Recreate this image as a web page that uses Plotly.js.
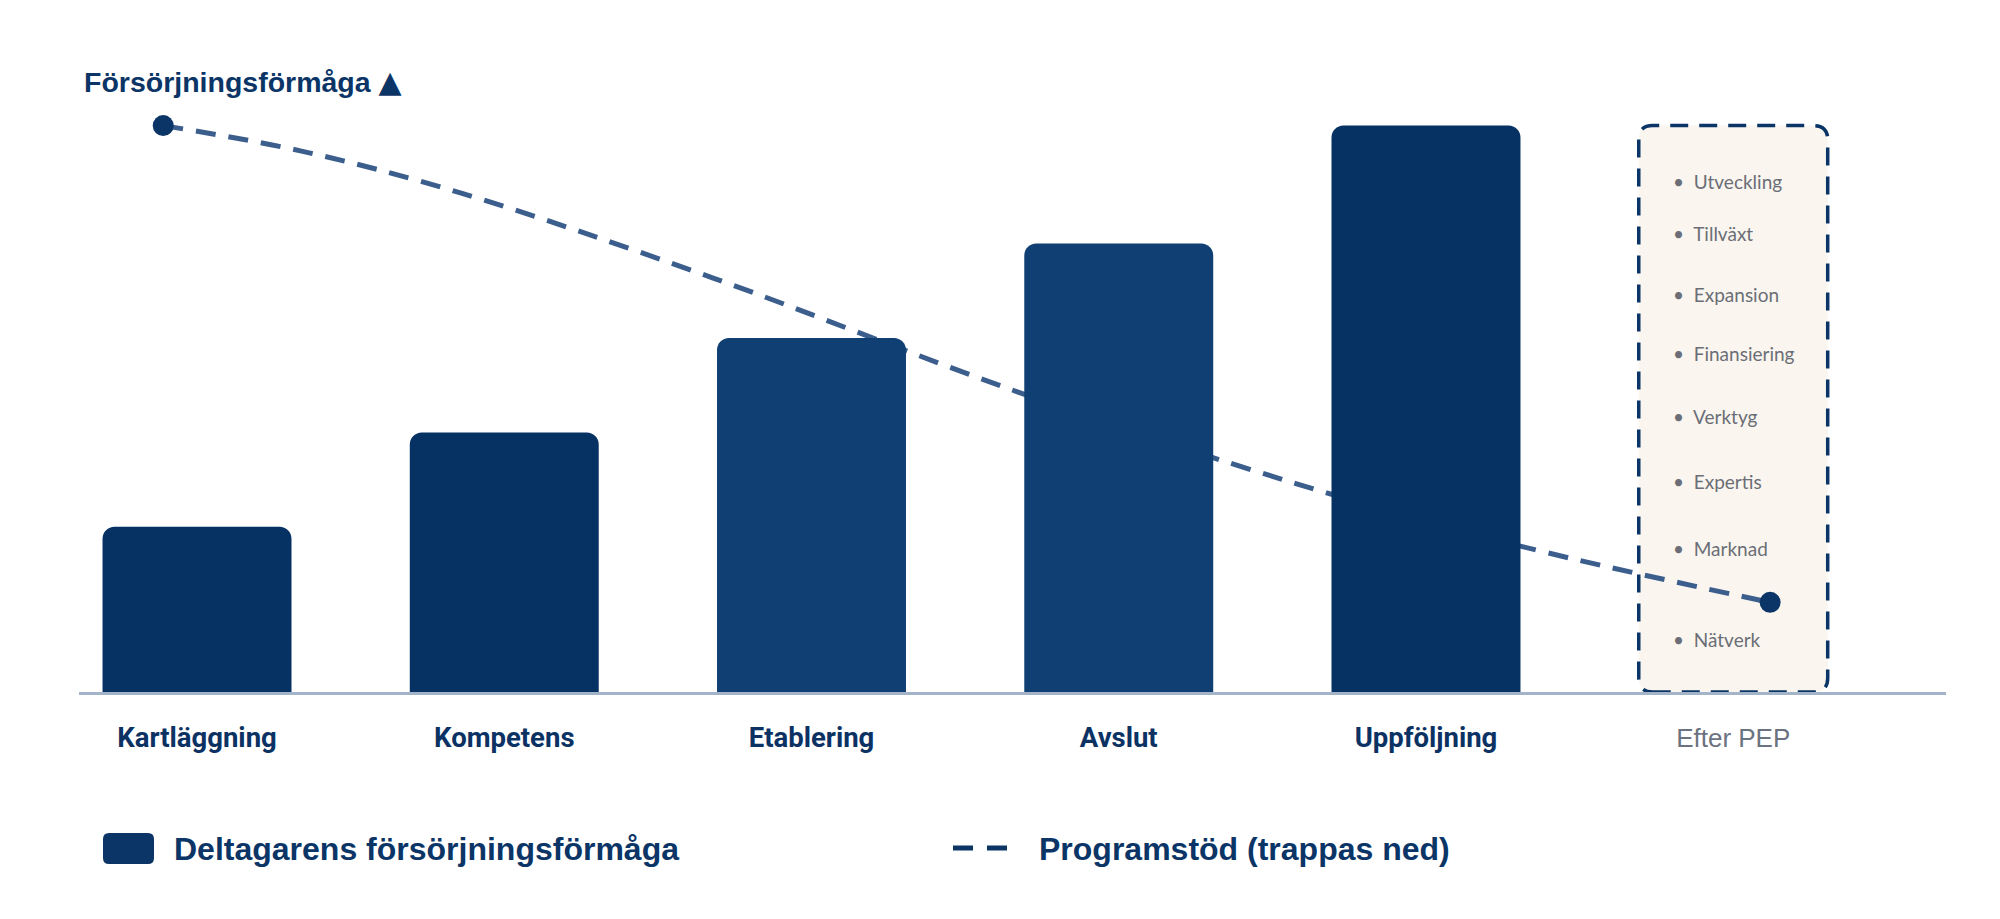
<!DOCTYPE html>
<html>
<head>
<meta charset="utf-8">
<script src="https://cdn.plot.ly/plotly-3.0.1.min.js"></script>
<style>html,body{margin:0;padding:0;background:#fff;}#chart{width:2000px;height:919px;}</style>
</head>
<body>
<div id="chart"></div>
<script>
// ---- data ----
const categories = ['Kartläggning', 'Kompetens', 'Etablering', 'Avslut', 'Uppföljning', 'Efter PEP'];
const barValues = [35, 55, 75, 95, 120];
const supportX = [-0.11, 0.34, 0.86, 1.68, 2.67, 3.59, 4.32, 5.12];
const supportY = [120, 114.6, 105.7, 87.7, 63.6, 43.9, 30.7, 19];
const afterItems = ['Utveckling', 'Tillväxt', 'Expansion', 'Finansiering', 'Verktyg', 'Expertis', 'Marknad', 'Nätverk'];
const afterItemLevels = [108.1, 97.2, 84.3, 71.8, 58.3, 44.5, 30.5, 11.2];
const barSeriesName = 'Deltagarens försörjningsförmåga';
const lineSeriesName = 'Programstöd (trappas ned)';
const yTitle = 'Försörjningsförmåga';
const yTitleMark = '▲';

// ---- style ----
const NAVY = '#0b3566';
const barColors = ['#063263', '#063263', '#0f3f73', '#0f3f73', '#063263'];
const xRange = [-0.3841, 5.6925];
const yRange = [0, 125];
const barWidth = 0.615;

const barX = barValues.map((_, i) => i);
const afterIdx = categories.length - 1;
const boxTop = Math.max(...barValues);
const lastI = supportX.length - 1;

const bars = {
  type: 'bar', x: barX, y: barValues, width: barWidth,
  xaxis: 'x2', yaxis: 'y2',
  marker: { color: barColors, cornerradius: 12, line: { width: 0 } },
  hoverinfo: 'skip', showlegend: false
};
const line = {
  type: 'scatter', mode: 'lines', x: supportX, y: supportY,
  line: { shape: 'spline', smoothing: 1, dash: '20px,13px', width: 5, color: '#3b5e8c' },
  hoverinfo: 'skip', showlegend: false
};
const ends = {
  type: 'scatter', mode: 'markers', x: [supportX[0], supportX[lastI]], y: [supportY[0], supportY[lastI]],
  marker: { size: 21, color: NAVY, opacity: 1, line: { width: 0 } },
  hoverinfo: 'skip', showlegend: false
};

// rounded box for "Efter PEP"
const bx0 = afterIdx - barWidth / 2, bx1 = afterIdx + barWidth / 2, by0 = 0, by1 = boxTop;
const rx = 14 / 307.25, ry = 14 / 4.72;
const boxPath = `M ${bx0 + rx},${by0} L ${bx1 - rx},${by0} Q ${bx1},${by0} ${bx1},${by0 + ry} ` +
  `L ${bx1},${by1 - ry} Q ${bx1},${by1} ${bx1 - rx},${by1} L ${bx0 + rx},${by1} Q ${bx0},${by1} ${bx0},${by1 - ry} ` +
  `L ${bx0},${by0 + ry} Q ${bx0},${by0} ${bx0 + rx},${by0} Z`;

// legend geometry (paper coords; plot area 1867 x 590 px)
const PW = 1867, PH = 590;
const px2x = p => (p - 79) / PW;
const py2y = p => (692 - p) / PH;
const lx0 = px2x(103), lx1 = px2x(154), ly0 = py2y(864), ly1 = py2y(833);
const lrx = 6 / PW, lry = 6 / PH;
const legPath = `M ${lx0 + lrx},${ly0} L ${lx1 - lrx},${ly0} Q ${lx1},${ly0} ${lx1},${ly0 + lry} ` +
  `L ${lx1},${ly1 - lry} Q ${lx1},${ly1} ${lx1 - lrx},${ly1} L ${lx0 + lrx},${ly1} Q ${lx0},${ly1} ${lx0},${ly1 - lry} ` +
  `L ${lx0},${ly0 + lry} Q ${lx0},${ly0} ${lx0 + lrx},${ly0} Z`;

const shapes = [
  { type: 'path', xref: 'x', yref: 'y', path: boxPath, layer: 'below',
    fillcolor: '#faf6ef', line: { color: NAVY, width: 3.5, dash: '18px,11px' } },
  { type: 'path', xref: 'paper', yref: 'paper', path: legPath, fillcolor: NAVY, line: { width: 0 } },
  { type: 'line', xref: 'paper', yref: 'paper', x0: px2x(953), x1: px2x(1008), y0: py2y(848), y1: py2y(848),
    line: { color: NAVY, width: 5, dash: '20px,14px' } }
];

const annotations = afterItems.map((t, i) => ({
  xref: 'x', yref: 'y', x: 4.797, y: afterItemLevels[i], xanchor: 'left', yanchor: 'middle',
  text: '•\u00a0\u00a0' + t, showarrow: false,
  font: { family: 'Lato, Open Sans, sans-serif', size: 19, color: '#6b6e76' }
}));
annotations.push(
  { xref: 'paper', yref: 'paper', x: px2x(82), y: py2y(81), xanchor: 'left', yanchor: 'middle', showarrow: false,
    text: yTitle + ' <span style="font-family:\'DejaVu Sans\';font-size:30px">' + yTitleMark + '</span>',
    font: { family: 'Liberation Sans, Arial, sans-serif', size: 28.5, weight: 'bold', color: NAVY } },
  { xref: 'paper', yref: 'paper', x: px2x(172), y: py2y(849), xanchor: 'left', yanchor: 'middle', showarrow: false,
    text: barSeriesName, font: { family: 'Liberation Sans, Arial, sans-serif', size: 32, weight: 'bold', color: NAVY } },
  { xref: 'paper', yref: 'paper', x: px2x(1037), y: py2y(849), xanchor: 'left', yanchor: 'middle', showarrow: false,
    text: lineSeriesName, font: { family: 'Liberation Sans, Arial, sans-serif', size: 32, weight: 'bold', color: NAVY } }
);

const tickText = categories.map((c, i) => i === afterIdx
  ? `<span style="font-family:'Liberation Sans',Arial,sans-serif;font-weight:normal;font-size:26px;fill:#6b7280">${c}</span>`
  : c);

const layout = {
  width: 2000, height: 919,
  margin: { l: 79, r: 54, t: 102, b: 227, pad: 0 },
  paper_bgcolor: '#ffffff', plot_bgcolor: 'rgba(0,0,0,0)',
  showlegend: false,
  xaxis: {
    range: xRange, tickmode: 'array', tickvals: categories.map((_, i) => i), ticktext: tickText,
    tickfont: { family: 'Roboto, sans-serif', size: 27.5, weight: 'bold', color: '#0c3264' },
    showline: true, linecolor: '#a3b3c8', linewidth: 3, showgrid: false, zeroline: false,
    ticks: '', ticklabelstandoff: 19, fixedrange: true
  },
  yaxis: { range: yRange, showgrid: false, zeroline: false, showticklabels: false, showline: false, ticks: '', fixedrange: true },
  xaxis2: { overlaying: 'x', range: xRange, visible: false, fixedrange: true },
  yaxis2: { overlaying: 'y', range: yRange, visible: false, fixedrange: true },
  shapes: shapes,
  annotations: annotations
};

Plotly.newPlot('chart', [line, ends, bars], layout, { displayModeBar: false, staticPlot: true });
</script>
</body>
</html>
